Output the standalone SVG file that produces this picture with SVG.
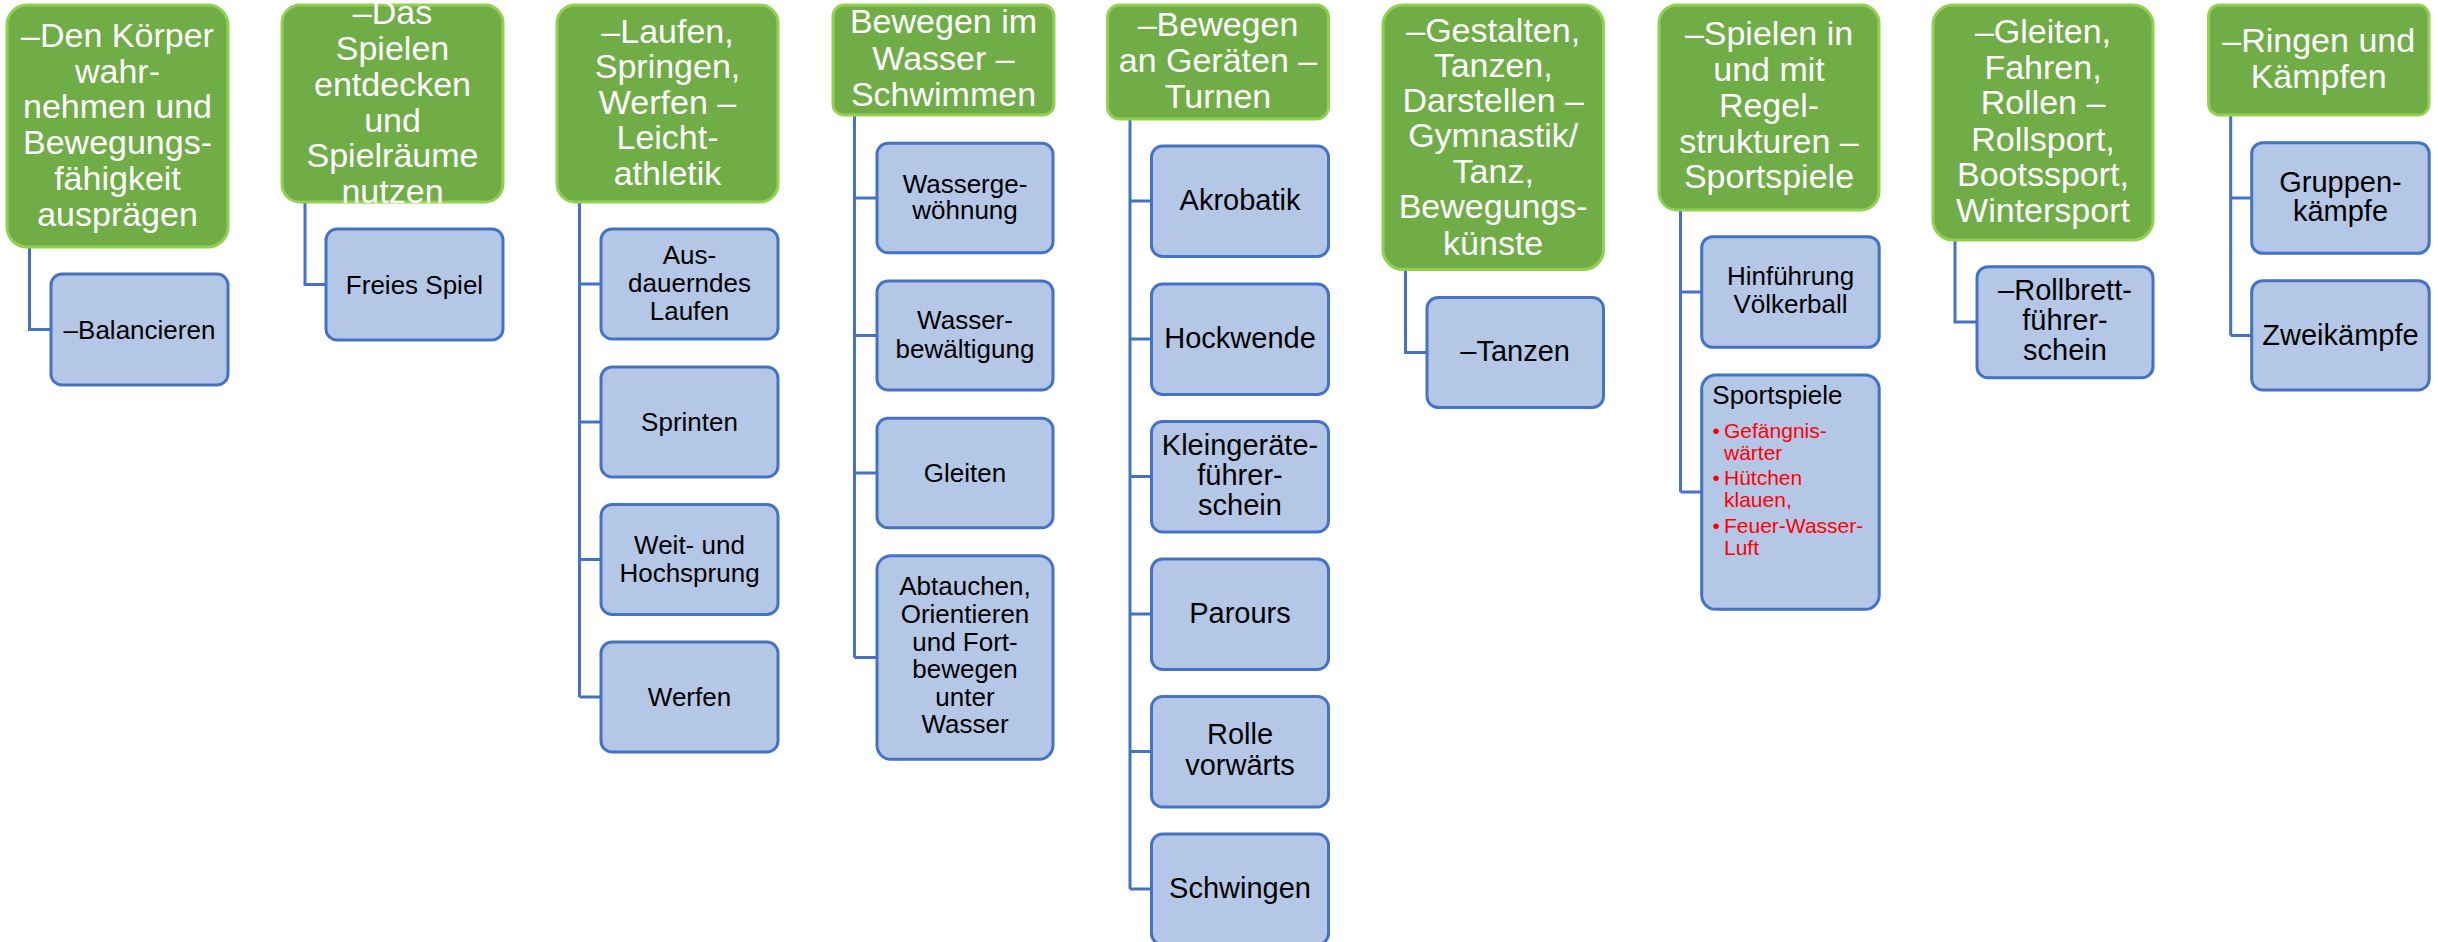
<svg xmlns="http://www.w3.org/2000/svg" width="2438" height="942" viewBox="0 0 2438 942">
<style>
.h{fill:#70AD47;stroke:#92D050;stroke-width:3}
.c{fill:#B4C7E7;stroke:#4472C4;stroke-width:3}
.ht{font-family:"Liberation Sans",Arial,sans-serif;font-size:34px;fill:#FFFFFF;text-anchor:middle}
.ct{font-family:"Liberation Sans",Arial,sans-serif;font-size:26px;fill:#000000;text-anchor:middle}
.cb{font-size:29px}
.rt{font-family:"Liberation Sans",Arial,sans-serif;font-size:21px;fill:#FF0000}
.ln{fill:none;stroke:#4472C4;stroke-width:3}
</style>
<rect width="2438" height="942" fill="#FFFFFF"/>
<g id="connectors">
<path class="ln" d="M29.5 247V329.5H51"/>
<path class="ln" d="M305 202V284.5H326"/>
<path class="ln" d="M579.5 202V697M579.5 284H601M579.5 422H601M579.5 559.5H601M579.5 697H601"/>
<path class="ln" d="M854.5 115V657.5M854.5 198H877M854.5 335.5H877M854.5 473H877M854.5 657.5H877"/>
<path class="ln" d="M1130 119V889M1130 201H1151.5M1130 339H1151.5M1130 476.5H1151.5M1130 614H1151.5M1130 751.5H1151.5M1130 889H1151.5"/>
<path class="ln" d="M1405.5 269.5V352.5H1427"/>
<path class="ln" d="M1680.5 210V492M1680.5 292H1701.7M1680.5 492H1701.7"/>
<path class="ln" d="M1955 240V322H1977"/>
<path class="ln" d="M2230.7 115V335.5M2230.7 198H2251.7M2230.7 335.5H2251.7"/>
</g>
<g id="n1">
<rect class="h" x="7" y="5" width="221" height="242" rx="20"/>
<text class="ht"><tspan x="117.5" y="46.7">–Den Körper</tspan><tspan x="117.5" y="82.5">wahr-</tspan><tspan x="117.5" y="118.3">nehmen und</tspan><tspan x="117.5" y="154">Bewegungs-</tspan><tspan x="117.5" y="190">fähigkeit</tspan><tspan x="117.5" y="225.7">ausprägen</tspan></text>
</g>
<g id="n1a">
<rect class="c" x="51" y="274" width="177" height="111" rx="11"/>
<text class="ct" x="139.5" y="338.5">–Balancieren</text>
</g>
<g id="n2">
<rect class="h" x="282" y="5" width="221" height="197" rx="18"/>
<text class="ht"><tspan x="392.5" y="24">–Das</tspan><tspan x="392.5" y="60">Spielen</tspan><tspan x="392.5" y="96">entdecken</tspan><tspan x="392.5" y="131.5">und</tspan><tspan x="392.5" y="167">Spielräume</tspan><tspan x="392.5" y="202.5">nutzen</tspan></text>
</g>
<g id="n2a">
<rect class="c" x="326" y="229" width="177" height="111" rx="11"/>
<text class="ct" x="414.5" y="293.5">Freies Spiel</text>
</g>
<g id="n3">
<rect class="h" x="557" y="5" width="221" height="197" rx="18"/>
<text class="ht"><tspan x="667.5" y="42.7">–Laufen,</tspan><tspan x="667.5" y="78.3">Springen,</tspan><tspan x="667.5" y="113.8">Werfen –</tspan><tspan x="667.5" y="149.3">Leicht-</tspan><tspan x="667.5" y="185">athletik</tspan></text>
</g>
<g id="n3a">
<rect class="c" x="601" y="229" width="177" height="110" rx="11"/>
<text class="ct"><tspan x="689.5" y="264.3">Aus-</tspan><tspan x="689.5" y="292">dauerndes</tspan><tspan x="689.5" y="319.5">Laufen</tspan></text>
</g>
<g id="n3b">
<rect class="c" x="601" y="367" width="177" height="110" rx="11"/>
<text class="ct" x="689.5" y="431">Sprinten</text>
</g>
<g id="n3c">
<rect class="c" x="601" y="504.5" width="177" height="110" rx="11"/>
<text class="ct"><tspan x="689.5" y="554">Weit- und</tspan><tspan x="689.5" y="582">Hochsprung</tspan></text>
</g>
<g id="n3d">
<rect class="c" x="601" y="642" width="177" height="110" rx="11"/>
<text class="ct" x="689.5" y="705.5">Werfen</text>
</g>
<g id="n4">
<rect class="h" x="833" y="5" width="221" height="110" rx="11"/>
<text class="ht"><tspan x="943.5" y="33.3">Bewegen im</tspan><tspan x="943.5" y="70">Wasser –</tspan><tspan x="943.5" y="106">Schwimmen</tspan></text>
</g>
<g id="n4a">
<rect class="c" x="877" y="143.3" width="176" height="109.4" rx="11"/>
<text class="ct"><tspan x="965" y="192.7">Wasserge-</tspan><tspan x="965" y="219.3">wöhnung</tspan></text>
</g>
<g id="n4b">
<rect class="c" x="877" y="281" width="176" height="109" rx="11"/>
<text class="ct"><tspan x="965" y="329.3">Wasser-</tspan><tspan x="965" y="357.7">bewältigung</tspan></text>
</g>
<g id="n4c">
<rect class="c" x="877" y="418.3" width="176" height="109.4" rx="11"/>
<text class="ct" x="965" y="481.7">Gleiten</text>
</g>
<g id="n4d">
<rect class="c" x="877" y="555.7" width="176" height="203.6" rx="14"/>
<text class="ct"><tspan x="965" y="595">Abtauchen,</tspan><tspan x="965" y="623">Orientieren</tspan><tspan x="965" y="650.7">und Fort-</tspan><tspan x="965" y="678.3">bewegen</tspan><tspan x="965" y="705.7">unter</tspan><tspan x="965" y="733.3">Wasser</tspan></text>
</g>
<g id="n5">
<rect class="h" x="1107.5" y="5" width="221" height="114" rx="12"/>
<text class="ht"><tspan x="1218" y="36">–Bewegen</tspan><tspan x="1218" y="71.7">an Geräten –</tspan><tspan x="1218" y="108">Turnen</tspan></text>
</g>
<g id="n5a">
<rect class="c" x="1151.5" y="146" width="177" height="110.5" rx="11"/>
<text class="ct cb" x="1240" y="209.5">Akrobatik</text>
</g>
<g id="n5b">
<rect class="c" x="1151.5" y="284" width="177" height="110.5" rx="11"/>
<text class="ct cb" x="1240" y="347.5">Hockwende</text>
</g>
<g id="n5c">
<rect class="c" x="1151.5" y="421.5" width="177" height="110.5" rx="11"/>
<text class="ct cb"><tspan x="1240" y="454.8">Kleingeräte-</tspan><tspan x="1240" y="484.8">führer-</tspan><tspan x="1240" y="515">schein</tspan></text>
</g>
<g id="n5d">
<rect class="c" x="1151.5" y="559" width="177" height="110.5" rx="11"/>
<text class="ct cb" x="1240" y="622.5">Parours</text>
</g>
<g id="n5e">
<rect class="c" x="1151.5" y="696.5" width="177" height="110.5" rx="11"/>
<text class="ct cb"><tspan x="1240" y="744">Rolle</tspan><tspan x="1240" y="775">vorwärts</tspan></text>
</g>
<g id="n5f">
<rect class="c" x="1151.5" y="834" width="177" height="110.5" rx="11"/>
<text class="ct cb" x="1240" y="897.7">Schwingen</text>
</g>
<g id="n6">
<rect class="h" x="1383" y="5" width="220.5" height="264.5" rx="20"/>
<text class="ht"><tspan x="1493.2" y="41.7">–Gestalten,</tspan><tspan x="1493.2" y="76.7">Tanzen,</tspan><tspan x="1493.2" y="111.7">Darstellen –</tspan><tspan x="1493.2" y="147">Gymnastik/</tspan><tspan x="1493.2" y="182.7">Tanz,</tspan><tspan x="1493.2" y="218.3">Bewegungs-</tspan><tspan x="1493.2" y="254.5">künste</tspan></text>
</g>
<g id="n6a">
<rect class="c" x="1427" y="297.5" width="176.5" height="110" rx="11"/>
<text class="ct cb" x="1515.2" y="361">–Tanzen</text>
</g>
<g id="n7">
<rect class="h" x="1659" y="5" width="220" height="205" rx="18"/>
<text class="ht"><tspan x="1769" y="45">–Spielen in</tspan><tspan x="1769" y="80.7">und mit</tspan><tspan x="1769" y="116.5">Regel-</tspan><tspan x="1769" y="152.5">strukturen –</tspan><tspan x="1769" y="188.3">Sportspiele</tspan></text>
</g>
<g id="n7a">
<rect class="c" x="1701.7" y="236.7" width="177.5" height="110.6" rx="11"/>
<text class="ct"><tspan x="1790.5" y="285">Hinführung</tspan><tspan x="1790.5" y="313.3">Völkerball</tspan></text>
</g>
<g id="n7b">
<rect class="c" x="1701.7" y="375" width="177.5" height="234.3" rx="14"/>
<text class="ct" x="1712.3" y="404" style="text-anchor:start">Sportspiele</text>
<text class="rt"><tspan x="1712.5" y="438.3">•</tspan><tspan x="1724" y="438.3">Gefängnis-</tspan><tspan x="1724" y="460">wärter</tspan><tspan x="1712.5" y="485">•</tspan><tspan x="1724" y="485">Hütchen</tspan><tspan x="1724" y="506.7">klauen,</tspan><tspan x="1712.5" y="533.3">•</tspan><tspan x="1724" y="533.3">Feuer-Wasser-</tspan><tspan x="1724" y="555">Luft</tspan></text>
</g>
<g id="n8">
<rect class="h" x="1933" y="5" width="220" height="235" rx="20"/>
<text class="ht"><tspan x="2043" y="43.3">–Gleiten,</tspan><tspan x="2043" y="79">Fahren,</tspan><tspan x="2043" y="114.3">Rollen –</tspan><tspan x="2043" y="150.5">Rollsport,</tspan><tspan x="2043" y="186">Bootssport,</tspan><tspan x="2043" y="221.7">Wintersport</tspan></text>
</g>
<g id="n8a">
<rect class="c" x="1977" y="266.7" width="176" height="111" rx="11"/>
<text class="ct cb"><tspan x="2065" y="300">–Rollbrett-</tspan><tspan x="2065" y="330">führer-</tspan><tspan x="2065" y="360">schein</tspan></text>
</g>
<g id="n9">
<rect class="h" x="2208.5" y="5" width="220.5" height="110" rx="11"/>
<text class="ht"><tspan x="2318.7" y="51.7">–Ringen und</tspan><tspan x="2318.7" y="88.3">Kämpfen</tspan></text>
</g>
<g id="n9a">
<rect class="c" x="2251.7" y="142.7" width="177.5" height="110.6" rx="11"/>
<text class="ct cb"><tspan x="2340.5" y="191.7">Gruppen-</tspan><tspan x="2340.5" y="220.7">kämpfe</tspan></text>
</g>
<g id="n9b">
<rect class="c" x="2251.7" y="280.7" width="177.5" height="109.3" rx="11"/>
<text class="ct cb" x="2340.5" y="345">Zweikämpfe</text>
</g>
</svg>
